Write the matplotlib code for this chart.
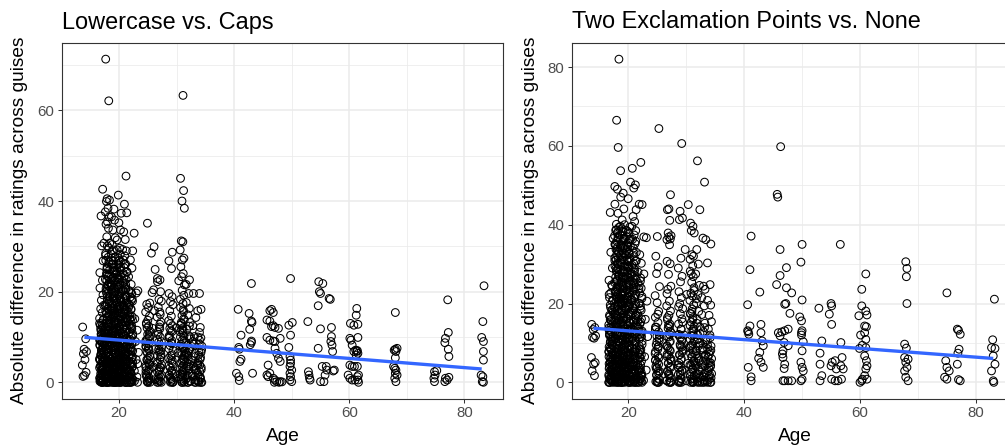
import matplotlib
matplotlib.use("Agg")
import matplotlib.pyplot as plt
from matplotlib.ticker import MultipleLocator

plt.rcParams['font.family'] = ['Liberation Sans', 'DejaVu Sans']

# ---------------- DATA ----------------
titles = ["Lowercase vs. Caps", "Two Exclamation Points vs. None"]
x_label = "Age"
y_label = "Absolute difference in ratings across guises"

# jitter offsets (horizontal spread of the integer ages, as seen)
jitter = [-0.31, 0.22, -0.06, 0.35, -0.18, 0.09, -0.37, 0.28, 0.01, -0.25,
          0.16, -0.12, 0.38, -0.02, 0.25, -0.33, 0.12]

# ---- Panel 1: Lowercase vs. Caps : grouped by age ----
lc_ages = [14, 17, 18, 19, 20, 21, 22, 23, 25, 26, 27, 29, 30, 31, 32, 33, 34]
lc_vals = [
    [12.2, 9.6, 7.3, 6.8, 6.3, 5.0, 3.8, 2.2, 1.5, 1.3],
    [42.6, 36.7, 30.7, 30.1, 26.8, 24.2, 22.5, 20.8, 19.3, 18.1, 17.0, 16.2, 15.4, 14.1, 13.7,
     13.1, 12.6, 12.0, 11.4, 10.9, 10.3, 9.8, 9.2, 8.7, 8.1, 7.6, 7.0, 6.6, 6.1, 5.5, 5.0, 4.5,
     4.0, 3.6, 3.1, 2.6, 2.2, 1.7, 1.3, 0.9, 0.5, 0.2, 0.0, 0.0, 12.3, 9.5, 7.3, 5.2, 3.3, 1.5,
     0.4, 0.0, 10.6, 8.4, 6.3, 2.8, 1.0, 0.1],
    [71.3, 62.1, 40.5, 40.2, 39.9, 38.4, 37.6, 36.5, 35.4, 34.9, 34.0, 32.1, 30.7, 30.1, 29.6,
     28.4, 27.6, 26.9, 26.1, 25.5, 24.8, 24.0, 23.3, 22.7, 22.0, 21.4, 20.7, 20.1, 19.5, 18.8,
     18.2, 17.6, 16.9, 16.3, 15.7, 15.0, 14.4, 13.8, 13.1, 12.5, 11.9, 11.2, 10.6, 10.0, 9.3,
     8.7, 8.1, 7.4, 6.8, 6.2, 5.5, 4.9, 4.3, 3.6, 3.0, 2.4, 1.7, 1.1, 0.5, 0.0, 0.0, 0.0, 25.0,
     21.1, 17.3, 13.4, 9.7, 5.9, 2.0, 0.3, 23.6, 19.0, 15.2, 11.6, 7.8, 4.1, 0.8, 0.0, 12.2,
     3.3, 1.4, 6.6, 8.9, 10.3],
    [38.2, 36.5, 35.8, 33.6, 31.9, 30.4, 29.2, 28.3, 27.5, 26.8, 26.0, 25.3, 24.6, 23.9, 23.1,
     22.4, 21.7, 21.0, 20.3, 19.6, 18.9, 18.1, 17.4, 16.7, 16.0, 15.3, 14.6, 13.9, 13.2, 12.5,
     11.8, 11.1, 10.4, 9.7, 9.0, 8.3, 7.6, 6.9, 6.2, 5.5, 4.8, 4.1, 3.4, 2.7, 2.0, 1.3, 0.6,
     0.0, 0.0, 0.0, 27.0, 24.2, 21.4, 18.5, 15.7, 12.9, 10.1, 7.2, 4.4, 1.6, 0.2, 22.8, 19.2,
     16.4, 13.6, 10.8, 8.0, 5.1, 2.3, 0.9, 14.9, 11.4, 6.5, 3.8, 1.1, 0.0, 20.0, 9.3, 4.6, 0.4],
    [41.3, 37.3, 35.2, 33.6, 31.4, 29.6, 29.2, 28.2, 27.4, 26.6, 25.9, 25.1, 24.4, 23.6, 22.9,
     22.1, 21.4, 20.6, 19.9, 19.1, 18.4, 17.6, 16.9, 16.1, 15.4, 14.6, 13.9, 13.1, 12.4, 11.6,
     10.9, 10.1, 9.4, 8.6, 7.9, 7.1, 6.4, 5.6, 4.9, 4.1, 3.4, 2.6, 1.9, 1.1, 0.4, 0.0, 0.0, 0.0,
     26.2, 23.0, 19.5, 16.5, 13.4, 10.5, 7.5, 4.5, 1.5, 0.2, 24.7, 20.9, 17.9, 14.2, 11.2, 8.2,
     5.3, 2.3, 0.7, 21.8, 15.0, 9.0, 3.0, 0.0, 12.0, 6.0, 1.0],
    [45.5, 39.3, 37.4, 33.2, 31.5, 29.3, 29.0, 27.9, 27.0, 26.1, 25.3, 24.4, 23.5, 22.7, 21.8,
     20.9, 20.1, 19.2, 18.4, 17.5, 16.6, 15.8, 14.9, 14.0, 13.2, 12.3, 11.4, 10.6, 9.7, 8.9,
     8.0, 7.1, 6.3, 5.4, 4.5, 3.7, 2.8, 1.9, 1.1, 0.2, 0.0, 0.0, 24.0, 20.5, 17.0, 13.6, 10.2,
     6.7, 3.3, 0.6, 22.3, 18.8, 15.3, 11.9, 8.4, 5.0, 1.5, 0.0, 16.2, 9.3, 4.1, 2.4],
    [29.0, 27.0, 25.2, 23.3, 21.6, 20.3, 19.6, 18.8, 17.9, 17.1, 16.2, 15.4, 14.5, 13.7, 12.8,
     12.0, 11.1, 10.3, 9.4, 8.6, 7.7, 6.9, 6.0, 5.2, 4.3, 3.5, 2.6, 1.8, 0.9, 0.2, 0.0, 0.0,
     18.1, 14.0, 10.7, 7.3, 3.9, 1.3, 0.0, 16.6, 12.4, 8.2, 5.6, 2.2, 0.5],
    [32.9, 20.2, 19.7, 14.0, 11.5, 9.0, 6.6, 5.0, 4.1, 2.5, 1.2, 0.3, 0.0],
    [35.1, 17.5, 17.2, 16.5, 15.5, 14.6, 13.7, 13.1, 12.4, 12.0, 11.3, 10.6, 9.9, 9.2, 8.5,
     7.8, 7.1, 6.4, 5.7, 5.0, 4.3, 3.6, 2.9, 2.2, 1.5, 0.8, 0.2, 0.0, 0.0, 11.0, 8.0, 5.3, 2.6,
     0.5, 9.6, 3.9, 1.2],
    [29.9, 28.5, 24.9, 20.4, 19.8, 15.8, 11.9, 7.4, 3.4, 0.6],
    [22.9, 22.6, 22.2, 20.0, 18.3, 17.9, 16.6, 15.5, 14.4, 13.3, 12.2, 11.1, 10.0, 8.9, 7.8,
     6.7, 5.6, 4.5, 3.4, 2.3, 1.2, 0.3, 0.0, 0.0, 12.8, 9.4, 6.1, 2.8, 0.6, 15.0, 7.2, 3.9, 1.7],
    [28.7, 26.8, 25.1, 19.6, 18.9, 17.8, 17.1, 15.8, 14.6, 13.6, 12.5, 11.4, 10.3, 9.2, 8.1,
     7.0, 5.9, 4.8, 3.7, 2.6, 1.5, 0.5, 0.0, 0.0, 11.9, 8.6, 5.3, 2.0, 0.2, 9.8, 4.2, 1.1],
    [22.4, 12.0, 6.5, 1.8],
    [63.3, 45.0, 42.3, 40.0, 38.4, 31.2, 31.0, 29.2, 27.4, 27.0, 25.5, 24.0, 23.3, 21.5, 20.3,
     19.2, 18.3, 17.4, 16.5, 15.6, 14.7, 13.8, 12.9, 12.0, 11.1, 10.2, 9.3, 8.4, 7.5, 6.6, 5.7,
     4.8, 3.9, 3.0, 2.1, 1.2, 0.3, 0.0, 0.0, 13.2, 10.8, 8.0, 5.2, 2.5, 0.7, 16.0, 11.6, 6.1, 1.6],
    [22.6, 21.6, 19.6, 17.6, 16.3, 14.9, 13.2, 11.7, 10.3, 8.8, 7.3, 5.9, 4.4, 2.9, 1.5, 0.3,
     0.0, 9.6, 6.4, 3.6, 0.8, 12.4],
    [19.6, 14.3, 12.5, 10.1, 7.9, 5.7, 3.6, 1.4, 0.0, 9.0, 2.7],
    [19.6, 16.1, 15.8, 12.1, 10.0, 9.8, 8.5, 7.2, 6.0, 5.1, 4.2, 3.3, 2.4, 1.5, 0.7, 0.0, 0.0,
     11.0, 6.6, 3.8, 1.0, 0.3],
]
# further points inside the solid black masses (same ages as lc_ages)
lc_vals_dense = [
    [],
    [0.3, 0.8, 1.4, 1.9, 2.7, 3.2, 3.8, 4.4, 4.9, 5.6, 6.0, 6.7, 7.2, 7.9, 8.3, 9.0, 9.4, 10.0,
     10.7, 11.1, 11.8, 12.5, 13.0, 13.9, 0.0, 0.6, 2.0, 3.5, 5.3, 8.8],
    [0.2, 0.7, 1.3, 1.8, 2.5, 3.1, 3.7, 4.2, 4.8, 5.3, 6.0, 6.5, 7.1, 7.7, 8.3, 8.9, 9.5, 10.2,
     10.9, 11.5, 12.3, 13.0, 13.7, 14.5, 15.4, 16.2, 17.1, 18.0, 19.0, 20.1, 21.3, 22.5, 23.8,
     25.2, 26.6, 28.0, 0.0, 1.0, 2.8, 4.6],
    [0.1, 0.5, 1.0, 1.6, 2.2, 2.9, 3.5, 4.0, 4.7, 5.2, 5.9, 6.4, 7.0, 7.7, 8.4, 9.1, 9.8, 10.5,
     11.3, 12.0, 12.8, 13.6, 14.4, 15.2, 16.1, 17.0, 18.0, 19.0, 20.0, 21.1, 22.2, 23.4, 24.7,
     26.1, 27.6, 29.0, 0.0, 1.8, 3.2, 6.0],
    [0.3, 0.8, 1.3, 1.9, 2.4, 3.0, 3.7, 4.3, 4.8, 5.4, 6.1, 6.7, 7.3, 8.0, 8.6, 9.3, 10.0, 10.7,
     11.4, 12.2, 13.0, 13.7, 14.5, 15.3, 16.2, 17.2, 18.1, 19.2, 20.3, 21.5, 22.7, 24.0, 25.4,
     26.9, 0.0, 0.5, 2.1, 3.9, 5.1, 7.7],
    [0.1, 0.6, 1.2, 1.7, 2.3, 2.9, 3.4, 4.0, 4.6, 5.1, 5.8, 6.3, 7.0, 7.6, 8.2, 8.9, 9.6, 10.3,
     11.0, 11.8, 12.6, 13.4, 14.2, 15.1, 16.0, 17.0, 18.0, 19.1, 20.3, 21.5, 22.9, 24.3, 26.0,
     0.0, 1.5, 3.0, 4.8, 6.0],
    [0.2, 0.7, 1.4, 2.0, 2.8, 3.3, 4.0, 4.7, 5.4, 6.2, 6.9, 7.6, 8.4, 9.2, 10.0, 10.9, 11.8,
     12.7, 13.7, 14.8, 16.0, 17.3, 18.5, 20.0, 0.0, 1.1, 2.5, 4.4],
    [],
    [0.3, 1.0, 1.9, 2.6, 3.3, 4.1, 4.9, 5.9, 6.8, 7.5, 8.8, 10.2, 0.0, 12.8],
    [],
    [0.2, 0.9, 1.6, 2.5, 3.2, 4.1, 5.0, 5.9, 6.9, 8.0, 9.0, 10.6, 11.8, 0.0],
    [0.1, 0.8, 1.7, 2.4, 3.2, 4.0, 5.0, 6.1, 7.4, 8.7, 10.0, 11.2, 13.0, 0.0],
    [],
    [0.4, 1.1, 1.8, 2.6, 3.4, 4.3, 5.1, 6.0, 7.0, 7.9, 9.0, 10.0, 11.4, 12.6, 14.0, 0.0],
    [0.2, 1.0, 2.0, 3.1, 4.0, 5.0, 6.1, 7.0, 8.2, 10.0, 0.0],
    [0.5, 1.8, 3.0, 4.8, 6.4, 8.4, 0.0],
    [0.2, 1.2, 2.0, 2.8, 3.8, 4.7, 5.5, 6.8, 8.0, 9.3, 0.0],
]
# Panel 1: older respondents, read point by point (age as plotted, value)
lc_old_age = [40.7, 41.2, 40.8, 40.9, 41.2, 41.0, 40.4, 40.8, 40.9,
              43.0, 42.6, 43.0, 43.1, 42.7, 43.0, 43.0, 43.2, 42.8,
              46.5, 46.8, 46.2, 45.7, 46.2, 46.8, 46.5, 47.1, 47.7, 45.7, 46.2, 46.8, 47.1, 48.0,
              47.1, 47.4, 47.7, 48.0, 45.9, 45.7, 45.9, 46.8, 47.1, 47.4, 48.0, 46.2, 47.8, 48.3, 47.0,
              49.8, 49.5, 50.1, 49.8, 49.5, 49.7, 49.8, 49.8, 49.7, 50.0, 49.7, 49.8, 49.7, 50.0,
              52.8, 54.7, 55.4, 54.8, 55.0, 54.6, 56.5, 56.7, 55.0, 56.9, 56.9, 57.0, 56.8, 54.6,
              52.9, 53.0, 53.1, 53.2, 55.3, 56.0, 56.1, 55.8, 55.0, 55.6, 57.2, 57.4, 57.1,
              61.3, 61.2, 60.2, 60.8, 60.1, 60.3, 60.5, 61.1, 60.8, 61.3, 61.2, 60.1, 60.5, 60.9,
              59.8, 60.1, 60.5, 61.0, 61.6, 61.5, 61.5, 61.4, 61.5, 61.4, 61.4, 61.5, 61.6,
              68.0, 67.8, 68.0, 68.3, 68.1, 68.0, 67.7, 67.9, 68.1, 68.0, 68.3, 67.9, 68.1,
              77.1, 77.2, 76.7, 76.6, 77.2, 77.3, 74.8, 74.9, 74.7, 74.8, 75.2, 76.7, 77.0, 76.6, 77.3,
              83.4, 83.2, 83.0, 83.3, 83.3, 83.3, 82.9, 83.2, 83.1, 83.3]
lc_old_val = [16.1, 10.4, 7.7, 7.3, 5.1, 4.6, 2.0, 1.25, 0.4,
              21.8, 15.2, 13.5, 13.2, 11.7, 9.1, 8.8, 2.0, 8.3,
              16.1, 15.4, 15.8, 13.75, 13.5, 12.5, 12.3, 12.1, 11.9, 9.9, 9.3, 9.1, 9.0, 9.7,
              7.5, 6.4, 5.3, 4.6, 3.8, 1.6, 1.25, 0.9, 0.5, 0.15, 0.15, 2.0, 0.0, 0.1, 0.0,
              22.9, 12.6, 13.2, 10.4, 7.7, 5.7, 4.9, 4.2, 3.5, 2.7, 2.0, 1.25, 0.5, 0.15,
              13.4, 22.2, 21.8, 20.0, 19.6, 16.9, 18.5, 18.3, 11.8, 12.1, 10.1, 8.2, 9.0, 7.5,
              2.35, 1.6, 0.9, 0.5, 3.5, 3.5, 2.7, 1.6, 0.15, 0.15, 2.5, 2.7, 6.8,
              16.3, 14.8, 13.0, 12.6, 9.7, 9.3, 8.2, 7.1, 6.8, 6.8, 6.0, 3.8, 3.5, 3.5,
              1.6, 0.9, 0.5, 0.5, 1.6, 12.8, 9.9, 7.0, 6.4, 3.5, 1.25, 0.5, 0.0,
              15.4, 7.1, 7.3, 7.5, 6.8, 5.4, 3.5, 3.1, 2.7, 2.0, 1.6, 0.9, 0.15,
              18.2, 11.0, 9.7, 8.75, 7.3, 5.7, 2.35, 1.6, 0.9, 0.15, 2.6, 0.9, 0.5, 0.15, 1.1,
              21.3, 13.4, 9.9, 9.0, 6.8, 4.9, 1.6, 1.25, 0.15, 0.0]
lc_fit_age = [14, 83]
lc_fit_val = [9.93, 2.94]

# ---- Panel 2: Two Exclamation Points vs. None ----
ex_ages = [14, 17, 18, 19, 20, 21, 22, 23, 25, 27, 29, 30, 31, 32, 33, 34]
ex_vals = [
    [14.7, 13.9, 13.4, 11.8, 11.4, 11.2, 6.3, 5.0, 4.6, 2.9, 1.7],
    [43.1, 36.5, 33.0, 29.0, 25.9, 24.7, 22.3, 20.6, 19.0, 17.8, 16.7, 15.5, 14.6, 13.7, 12.8,
     11.9, 11.0, 10.1, 9.2, 8.3, 7.4, 6.5, 5.6, 4.7, 3.8, 2.9, 2.0, 1.1, 0.3, 0.0, 0.0, 14.1,
     12.3, 10.5, 8.7, 6.9, 5.1, 3.3, 1.5, 0.6, 13.2, 9.6, 6.0, 2.4, 0.0, 11.5, 7.8, 4.2, 0.9,
     21.5, 18.4, 15.9],
    [82.0, 66.5, 59.6, 49.7, 49.0, 45.2, 42.9, 40.1, 39.3, 38.6, 37.9, 37.2, 36.5, 35.8, 35.1,
     34.4, 33.7, 33.0, 32.3, 31.6, 30.9, 30.2, 29.5, 28.8, 28.1, 27.4, 26.7, 26.0, 25.3, 24.6,
     23.9, 23.2, 22.5, 21.8, 21.1, 20.4, 19.7, 19.0, 18.3, 17.6, 16.9, 16.2, 15.5, 14.8, 14.1,
     13.4, 12.7, 12.0, 11.3, 10.6, 9.9, 9.2, 8.5, 7.8, 7.1, 6.4, 5.7, 5.0, 4.3, 3.6, 2.9, 2.2,
     1.5, 0.8, 0.1, 0.0, 0.0, 31.0, 27.0, 23.0, 19.3, 15.8, 12.3, 8.8, 5.3, 1.8, 0.4, 34.8,
     25.8, 17.2, 10.2, 3.9, 1.0, 38.0, 29.0, 21.5, 14.5, 7.0],
    [53.7, 48.0, 47.0, 44.0, 41.2, 40.0, 39.0, 38.2, 37.4, 36.6, 35.8, 35.0, 34.2, 33.4, 32.6,
     31.8, 31.0, 30.2, 29.4, 28.6, 27.8, 27.0, 26.2, 25.4, 24.6, 23.8, 23.0, 22.2, 21.4, 20.6,
     19.8, 19.0, 18.2, 17.4, 16.6, 15.8, 15.0, 14.2, 13.4, 12.6, 11.8, 11.0, 10.2, 9.4, 8.6,
     7.8, 7.0, 6.2, 5.4, 4.6, 3.8, 3.0, 2.2, 1.4, 0.6, 0.0, 0.0, 0.0, 36.2, 32.2, 28.2, 24.2,
     20.2, 16.2, 12.2, 8.2, 4.2, 1.0, 30.6, 22.6, 14.6, 6.6, 2.6, 0.3, 18.6, 10.6, 39.6, 34.6,
     26.6, 21.0, 13.0, 5.0],
    [50.8, 46.6, 39.4, 38.6, 37.8, 37.0, 36.2, 35.4, 34.6, 33.8, 33.0, 32.2, 31.4, 30.6, 29.8,
     29.0, 28.2, 27.4, 26.6, 25.8, 25.0, 24.2, 23.4, 22.6, 21.8, 21.0, 20.2, 19.4, 18.6, 17.8,
     17.0, 16.2, 15.4, 14.6, 13.8, 13.0, 12.2, 11.4, 10.6, 9.8, 9.0, 8.2, 7.4, 6.6, 5.8, 5.0,
     4.2, 3.4, 2.6, 1.8, 1.0, 0.2, 0.0, 0.0, 35.0, 31.0, 27.0, 23.0, 19.0, 15.0, 11.0, 7.0,
     3.0, 0.5, 29.4, 21.4, 13.4, 5.4, 1.4, 25.4, 9.4, 33.4, 17.4],
    [54.3, 50.1, 49.3, 43.8, 42.1, 40.8, 39.6, 38.5, 37.4, 36.3, 35.2, 34.1, 33.0, 31.9, 30.8,
     29.7, 28.6, 27.5, 26.4, 25.3, 24.2, 23.1, 22.0, 20.9, 19.8, 18.7, 17.6, 16.5, 15.4, 14.3,
     13.2, 12.1, 11.0, 9.9, 8.8, 7.7, 6.6, 5.5, 4.4, 3.3, 2.2, 1.1, 0.2, 0.0, 0.0, 30.2, 26.0,
     21.5, 17.0, 12.6, 8.3, 4.0, 0.6, 24.8, 15.9, 10.5, 6.1, 2.7, 35.8, 28.0, 19.0],
    [55.8, 45.2, 45.1, 32.4, 30.2, 28.0, 26.5, 25.2, 23.9, 22.6, 21.3, 20.0, 18.7, 17.4, 16.1,
     14.8, 13.5, 12.2, 10.9, 9.6, 8.3, 7.0, 5.7, 4.4, 3.1, 1.8, 0.5, 0.0, 0.0, 19.4, 15.5,
     11.6, 7.7, 3.8, 0.9, 24.5, 13.0, 6.2, 2.4],
    [36.9, 36.7, 27.5, 20.6, 16.0, 11.6, 6.5, 3.1, 0.5],
    [64.4, 37.0, 32.0, 29.3, 27.6, 24.3, 20.2, 18.0, 16.5, 15.2, 14.0, 12.8, 11.7, 10.6, 9.5,
     8.4, 7.3, 6.2, 5.1, 4.0, 2.9, 1.8, 0.7, 0.0, 0.0, 13.4, 9.0, 5.6, 2.3, 0.3, 11.2, 3.5,
     17.3, 22.0],
    [47.6, 44.0, 43.8, 41.1, 37.9, 37.2, 36.9, 36.4, 36.2, 34.9, 30.7, 30.1, 27.4, 24.4, 23.6,
     20.6, 19.4, 18.1, 17.0, 15.9, 14.8, 13.7, 12.6, 11.5, 10.4, 9.3, 8.2, 7.1, 6.0, 4.9, 3.8,
     2.7, 1.6, 0.5, 0.0, 0.0, 16.4, 12.1, 8.7, 5.4, 2.2, 0.3, 22.5, 14.2, 6.6],
    [60.6, 43.4, 41.7, 41.3, 31.5, 29.0, 26.9, 25.5, 23.0, 21.5, 20.0, 18.7, 17.4, 16.1, 14.8,
     13.5, 12.2, 10.9, 9.6, 8.3, 7.0, 5.7, 4.4, 3.1, 1.8, 0.5, 0.0, 0.0, 15.3, 11.3, 7.6, 3.7,
     0.9, 19.2, 9.0, 2.5],
    [45.1, 33.7, 22.3, 12.0, 4.8, 0.4],
    [40.4, 39.6, 38.5, 37.9, 32.4, 32.0, 31.2, 29.6, 28.2, 26.8, 25.4, 24.0, 22.6, 21.9, 20.8,
     19.7, 18.6, 17.5, 16.4, 15.3, 14.2, 13.1, 12.0, 10.9, 9.8, 8.7, 7.6, 6.5, 5.4, 4.3, 3.2,
     2.1, 1.0, 0.2, 0.0, 0.0, 27.5, 23.3, 18.0, 13.6, 9.2, 4.9, 1.5, 0.5],
    [56.2, 43.8, 33.7, 30.0, 27.5, 24.6, 22.3, 20.1, 18.0, 16.0, 14.0, 12.0, 10.0, 8.0, 6.0,
     4.0, 2.0, 0.3, 0.0, 15.0, 11.0, 7.0, 3.0, 1.0, 21.2],
    [50.8, 36.6, 36.2, 24.4, 23.6, 21.5, 19.4, 17.2, 15.0, 12.9, 10.8, 8.7, 6.6, 4.5, 2.4, 0.5,
     0.0, 13.9, 9.7, 5.5, 1.4],
    [35.1, 30.3, 24.8, 20.8, 19.6, 17.0, 15.4, 13.5, 12.0, 10.6, 9.2, 7.8, 6.4, 5.0, 3.6, 2.2,
     0.8, 0.0, 0.0, 11.3, 8.5, 4.3, 1.5],
]
# further points inside the solid black masses (same ages as ex_ages)
ex_vals_dense = [
    [],
    [0.2, 0.7, 1.3, 1.9, 2.6, 3.1, 3.9, 4.4, 5.1, 5.8, 6.4, 7.0, 7.7, 8.4, 9.0, 9.7, 10.5,
     11.2, 12.0, 12.9, 13.8, 14.8, 15.9, 17.0, 18.2, 19.6, 21.0, 22.7, 24.4, 0.0, 1.6, 3.5],
    [0.3, 0.9, 1.6, 2.3, 3.1, 3.8, 4.6, 5.4, 6.1, 6.9, 7.7, 8.6, 9.4, 10.3, 11.1, 12.0, 12.9,
     13.9, 14.9, 15.9, 17.0, 18.1, 19.2, 20.4, 21.6, 22.9, 24.2, 25.6, 27.0, 28.5, 30.0, 31.6,
     33.3, 35.0, 36.8, 38.7, 0.0, 1.2, 2.7, 4.2, 5.8],
    [0.1, 0.8, 1.5, 2.4, 3.2, 4.0, 4.8, 5.7, 6.5, 7.3, 8.1, 9.0, 9.8, 10.7, 11.6, 12.5, 13.5,
     14.5, 15.5, 16.5, 17.6, 18.8, 20.0, 21.2, 22.5, 23.8, 25.1, 26.5, 28.0, 29.5, 31.1, 32.8,
     34.5, 36.4, 38.4, 0.0, 1.1, 2.0, 3.6, 5.3],
    [0.4, 1.1, 1.9, 2.6, 3.5, 4.3, 5.0, 5.9, 6.8, 7.6, 8.5, 9.3, 10.2, 11.2, 12.1, 13.1, 14.1,
     15.1, 16.2, 17.3, 18.4, 19.6, 20.8, 22.1, 23.4, 24.8, 26.2, 27.7, 29.3, 30.9, 32.6, 34.4,
     36.3, 38.2, 0.0, 0.7, 2.2, 4.0, 6.2],
    [0.2, 0.9, 1.6, 2.4, 3.2, 4.1, 5.0, 5.8, 6.7, 7.6, 8.5, 9.5, 10.4, 11.4, 12.4, 13.5, 14.6,
     15.8, 17.0, 18.2, 19.5, 20.9, 22.3, 23.8, 25.4, 27.1, 28.9, 30.8, 32.8, 0.0, 1.3, 2.9, 4.6],
    [0.3, 1.0, 1.8, 2.7, 3.5, 4.5, 5.4, 6.4, 7.3, 8.3, 9.3, 10.4, 11.5, 12.7, 14.0, 15.3, 16.8,
     18.3, 20.0, 21.8, 23.7, 25.7, 0.0, 1.5, 3.1],
    [],
    [0.2, 1.0, 1.9, 2.8, 3.7, 4.6, 5.6, 6.7, 7.8, 9.1, 10.3, 12.0, 14.0, 0.0],
    [0.4, 1.1, 1.9, 2.9, 3.9, 4.8, 5.9, 6.9, 8.0, 9.1, 10.2, 11.6, 13.0, 14.5, 0.0],
    [0.3, 1.0, 2.0, 2.9, 3.9, 4.9, 6.0, 7.0, 8.0, 9.2, 10.5, 12.0, 13.4, 0.0],
    [],
    [0.1, 0.9, 1.7, 2.6, 3.5, 4.4, 5.3, 6.3, 7.3, 8.3, 9.4, 10.6, 11.8, 13.0, 14.4, 15.9, 17.4,
     0.0],
    [0.3, 1.2, 2.2, 3.3, 4.4, 5.5, 6.7, 8.0, 9.3, 10.8, 12.4, 0.0],
    [0.2, 1.0, 2.0, 3.2, 4.2, 5.4, 7.0, 8.2, 0.0],
    [0.4, 1.1, 2.0, 2.9, 3.9, 5.0, 6.0, 7.1, 8.1, 9.5, 0.0],
]
ex_old_age = [41.2, 41.0, 42.7, 40.6, 41.0, 40.7, 40.8, 40.6, 42.9, 42.9, 43.1, 43.3, 42.7, 42.5,
              42.9, 43.3, 40.7, 41.2, 41.2,
              46.3, 45.7, 45.8, 46.2, 47.3, 46.2, 45.6, 47.3, 48.2, 47.2, 47.0, 47.9, 45.9, 46.5,
              47.0, 47.6, 46.2, 46.9, 47.6, 46.7, 46.6, 46.7, 47.0, 46.9, 46.7, 47.0, 47.6, 48.2,
              50.0, 49.8, 50.0, 49.6, 49.9, 50.0, 49.9, 49.9, 50.2, 50.0, 49.8, 50.0, 50.2, 50.0, 49.8,
              56.6, 52.9, 55.0, 55.1, 54.7, 55.1, 53.4, 53.1, 53.1, 53.4, 53.1, 55.2, 55.0, 55.7,
              55.9, 56.9, 56.7, 57.1, 55.1, 56.2, 56.8, 55.7, 56.7,
              61.0, 60.3, 60.3, 61.0, 61.2, 60.8, 61.1, 60.8, 61.0, 60.4, 61.0, 60.8, 61.1, 61.2,
              61.0, 60.8, 61.2, 60.3, 60.4, 59.8, 60.0, 59.9, 60.1,
              67.9, 68.1, 68.0, 68.1, 67.7, 68.0, 67.7, 68.3, 67.9, 68.1, 67.7, 67.9, 68.3,
              75.0, 76.8, 77.3, 77.1, 76.9, 76.8, 74.8, 75.0, 75.4, 74.6, 75.0, 77.0, 77.3, 77.0,
              83.2, 82.9, 82.7, 83.3, 83.0, 83.3, 82.7, 83.0, 83.1]
ex_old_val = [37.1, 28.6, 22.9, 19.7, 14.3, 12.8, 12.2, 13.1, 14.7, 12.6, 10.5, 9.3, 7.6, 6.1,
              5.1, 3.8, 3.8, 1.4, 0.4,
              59.8, 47.7, 47.0, 33.7, 29.1, 27.1, 24.8, 24.0, 22.7, 20.0, 19.8, 17.5, 12.6, 12.8,
              13.1, 13.5, 11.8, 10.1, 9.3, 8.0, 7.2, 6.3, 4.6, 3.5, 0.4, 0.4, 0.4, 0.4,
              35.0, 30.5, 20.9, 16.6, 15.6, 13.1, 12.6, 12.0, 10.3, 8.0, 5.1, 3.8, 2.9, 0.8, 0.4,
              35.0, 18.8, 20.0, 19.4, 17.3, 14.7, 10.5, 7.4, 4.6, 1.7, 0.4, 5.1, 4.2, 5.5,
              3.4, 6.3, 4.2, 3.4, 0.8, 0.4, 0.8, 0.4, 10.1,
              27.5, 23.6, 19.4, 18.1, 17.1, 14.3, 14.1, 12.6, 10.9, 9.4, 8.8, 6.7, 5.5, 4.2,
              3.4, 1.7, 0.8, 0.4, 0.8, 16.9, 0.0, 8.6, 12.0,
              30.6, 28.9, 26.8, 20.0, 9.7, 8.7, 6.3, 5.9, 5.1, 3.8, 2.9, 1.3, 0.4,
              22.7, 13.5, 12.2, 8.4, 7.4, 4.6, 5.5, 3.8, 2.9, 1.3, 0.8, 0.7, 0.4, 13.2,
              21.1, 10.8, 8.8, 8.6, 6.7, 4.6, 2.9, 0.4, 0.0]
ex_fit_age = [14, 83]
ex_fit_val = [13.73, 6.06]

# ---------------- FIGURE ----------------
W, H = 1005, 447
fig = plt.figure(figsize=(W / 100, H / 100), dpi=100)

GRID = '#EBEBEB'
BORDER = '#333333'
TICKTXT = '#4D4D4D'
LINE = '#3366FF'


def px_box(left, top, right, bottom):
    return [left / W, 1 - bottom / H, (right - left) / W, (bottom - top) / H]


panels = [
    dict(box=px_box(62, 43, 503, 398.5), xlim=(10.1, 86.7), ylim=(-3.57, 74.86),
         ages=lc_ages, groups=[lc_vals, lc_vals_dense], old_x=lc_old_age, old_y=lc_old_val,
         fit_x=lc_fit_age, fit_y=lc_fit_val, title=titles[0], ylab_x=-0.077),
    dict(box=px_box(572, 43, 1017, 398.5), xlim=(10.28, 87.1), ylim=(-4.1, 86.1),
         ages=ex_ages, groups=[ex_vals, ex_vals_dense], old_x=ex_old_age, old_y=ex_old_val,
         fit_x=ex_fit_age, fit_y=ex_fit_val, title=titles[1], ylab_x=-0.074),
]

for p in panels:
    ax = fig.add_axes(p['box'])
    xs, ys = [], []
    k = 0
    for group in p['groups']:
        for age, vals in zip(p['ages'], group):
            for v in vals:
                xs.append(age + jitter[k % len(jitter)])
                ys.append(v)
                k += 1
    xs += list(p['old_x'])
    ys += list(p['old_y'])
    ax.scatter(xs, ys, s=31, facecolors='none', edgecolors='black',
               linewidths=0.75, zorder=3)
    ax.plot(p['fit_x'], p['fit_y'], color=LINE, lw=2.4, zorder=4,
            solid_capstyle='butt')

    ax.set_xlim(*p['xlim'])
    ax.set_ylim(*p['ylim'])
    ax.xaxis.set_major_locator(MultipleLocator(20))
    ax.xaxis.set_minor_locator(MultipleLocator(10))
    ax.yaxis.set_major_locator(MultipleLocator(20))
    ax.yaxis.set_minor_locator(MultipleLocator(10))
    ax.grid(which='major', color=GRID, lw=1.1, zorder=0)
    ax.grid(which='minor', color=GRID, lw=0.55, zorder=0)
    ax.set_axisbelow(True)
    for sp in ax.spines.values():
        sp.set_color(BORDER)
        sp.set_linewidth(0.8)
    ax.tick_params(which='major', length=3, width=0.75, color=BORDER,
                   labelcolor=TICKTXT, labelsize=10.8, pad=2.5)
    ax.tick_params(which='minor', length=0)

    ax.set_xlabel(x_label, fontsize=13.8, color='black')
    ax.xaxis.set_label_coords(0.5, -0.083)
    ax.set_ylabel(y_label, fontsize=13.8, color='black')
    ax.yaxis.set_label_coords(p['ylab_x'], 0.5)

    fig.text(p['box'][0], 1 - 28.5 / H, p['title'], fontsize=16.9,
             ha='left', va='baseline', color='black')

fig.savefig('out.png', dpi=100)
